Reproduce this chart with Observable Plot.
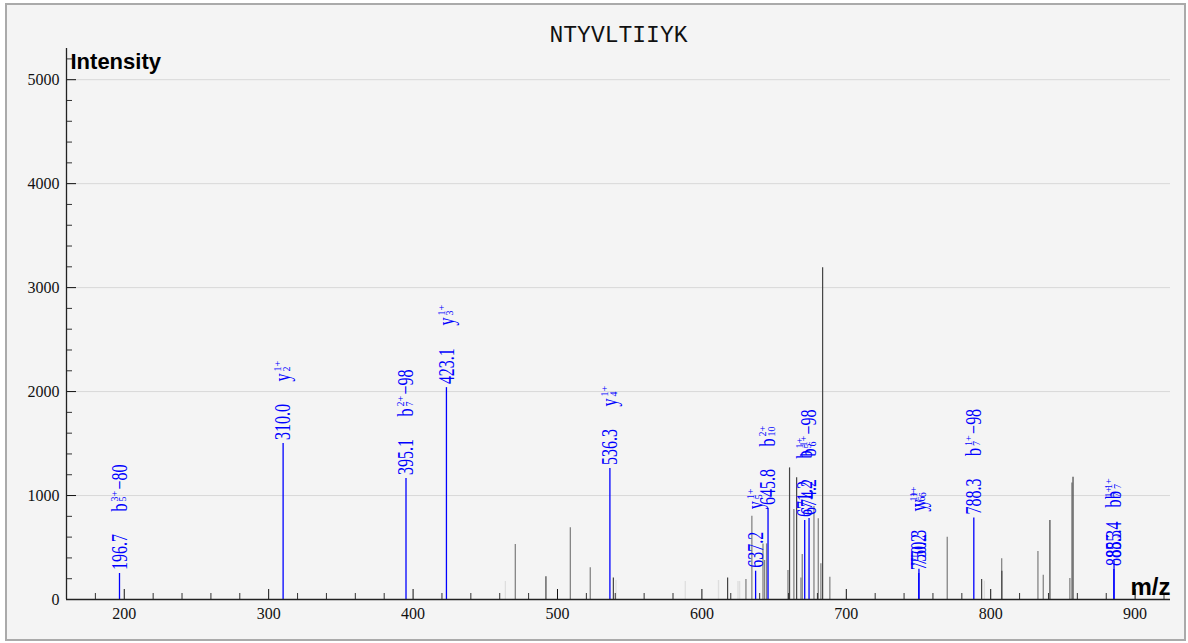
<!DOCTYPE html>
<html><head><meta charset="utf-8">
<script src="https://cdn.jsdelivr.net/npm/d3@7"></script>
<script src="https://cdn.jsdelivr.net/npm/@observablehq/plot@0.6"></script>
<style>
html,body{margin:0;padding:0;background:#fff;}
#frame{position:absolute;left:5px;top:3px;width:1177px;height:634px;border:2px solid #aaa;background:#f4f4f4;overflow:hidden;}
#frame svg{display:block;}
</style></head><body><div id="frame"></div>
<script>
// ---- text ----
const title = "NTYVLTIIYK";
const yLabel = "Intensity";
const xLabel = "m/z";

// ---- axis ticks ----
const xTicksMajor = [200, 300, 400, 500, 600, 700, 800, 900];
const xTicksMinor = [160, 180, 220, 240, 260, 280, 320, 340, 360, 380, 420, 440, 460, 480, 520, 540, 560, 580, 620, 640, 660, 680, 720, 740, 760, 780, 820, 840, 860, 880, 920];
const yTicksMajor = [0, 1000, 2000, 3000, 4000, 5000];
const yTicksMinor = [200, 400, 600, 800, 1200, 1400, 1600, 1800, 2200, 2400, 2600, 2800, 3200, 3400, 3600, 3800, 4200, 4400, 4600, 4800, 5200];

// ---- annotated (matched) peaks ----
const ionMz        = [196.7, 310.0, 395.1, 423.1, 536.3, 637.2, 645.8, 671.2, 674.2, 750.2, 750.3, 788.3, 885.3, 885.4];
const ionIntensity = [250, 1500, 1163, 2038, 1260, 272, 875, 760, 780, 250, 290, 785, 288, 370];
const ionLabel     = ["196.7", "310.0", "395.1", "423.1", "536.3", "637.2", "645.8", "671.2", "674.2", "750.2", "750.3", "788.3", "885.3", "885.4"];
const ionType      = ["b", "y", "b", "y", "y", "y", "b", "b", "b", "y", "y", "b", "b", "b"];
const ionIndex     = ["5", "2", "7", "3", "4", "5", "10", "5", "6", "6", "6", "7", "7", "7"];
const ionCharge    = ["3+", "1+", "2+", "1+", "1+", "1+", "2+", "1+", "1+", "1+", "1+", "1+", "1+", "1+"];
const ionLoss      = ["\u221280", "", "\u221298", "", "", "", "", "", "\u221298", "", "", "\u221298", "", ""];

// ---- unmatched peaks (class: faint / medium / strong) ----
const peakMz        = [463.9, 470.8, 492.0, 508.9, 522.7, 538.7, 540.5, 588.5, 611.5, 617.8, 625.0, 626.1, 630.5, 634.6, 642.3, 643.4, 644.8, 659.6, 660.7, 663.7, 665.6, 668.6, 669.5, 677.6, 680.6, 682.4, 683.6, 688.6, 769.9, 793.7, 795.6, 807.6, 807.7, 832.7, 836.4, 841.0, 854.8, 856.2, 857.0];
const peakIntensity = [173, 529, 218, 689, 305, 208, 183, 173, 183, 208, 173, 173, 192, 801, 535, 375, 535, 279, 1266, 865, 1170, 208, 433, 894, 776, 343, 3192, 214, 599, 192, 176, 391, 272, 462, 234, 760, 202, 1120, 1176];
const peakClass     = ["faint", "medium", "strong", "medium", "medium", "strong", "faint", "faint", "faint", "strong", "faint", "faint", "medium", "medium", "medium", "medium", "medium", "medium", "strong", "medium", "strong", "medium", "medium", "medium", "medium", "medium", "strong", "medium", "medium", "strong", "faint", "medium", "strong", "medium", "medium", "strong", "medium", "medium", "strong"];

const ions = ionMz.map((mz, i) => ({mz, intensity: ionIntensity[i], label: ionLabel[i], type: ionType[i], index: ionIndex[i], charge: ionCharge[i], loss: ionLoss[i]}));
const peaks = peakMz.map((mz, i) => ({mz, intensity: peakIntensity[i], cls: peakClass[i]}));

const blue = "#0000ff";
const serif = "Liberation Serif";
const stretched = {rotate: -90, textAnchor: "start", lineAnchor: "middle", fill: blue, fontFamily: serif, fontSize: 16, ariaDescription: "stretch"};
const script = {rotate: -90, textAnchor: "start", lineAnchor: "middle", fill: blue, fontFamily: serif, fontSize: 10};

const chart = Plot.plot({
  width: 1177, height: 634,
  marginLeft: 59, marginRight: 14, marginTop: 43, marginBottom: 40,
  style: {background: "transparent", fontFamily: serif, fontSize: "16px", color: "#111", overflow: "visible"},
  x: {domain: [160, 924.5], axis: null},
  y: {domain: [0, 5300], axis: null},
  marks: [
    Plot.gridY(yTicksMajor.filter(d => d > 0), {stroke: "#d8d8d8", strokeOpacity: 1}),
    Plot.ruleX(peaks.filter(d => d.cls === "faint"), {x: "mz", y1: 0, y2: "intensity", stroke: "#dedede", strokeWidth: 1.3}),
    Plot.ruleX(peaks.filter(d => d.cls === "medium"), {x: "mz", y1: 0, y2: "intensity", stroke: "#858585", strokeWidth: 1.3}),
    Plot.ruleX(peaks.filter(d => d.cls === "strong"), {x: "mz", y1: 0, y2: "intensity", stroke: "#444", strokeWidth: 1.2}),
    Plot.ruleX(ions, {x: "mz", y1: 0, y2: "intensity", stroke: blue, strokeWidth: 1.3}),
    Plot.axisY(yTicksMajor, {tickSize: -10, tickPadding: 17, tickFormat: d => String(d), label: null, color: "#111", fontSize: 16, fontFamily: serif}),
    Plot.axisY(yTicksMinor, {tickSize: -6, fill: "none", stroke: "#333", label: null}),
    Plot.axisX(xTicksMajor, {tickSize: -10, tickPadding: 18, tickFormat: d => String(d), label: null, color: "#111", fontSize: 16, fontFamily: serif}),
    Plot.axisX(xTicksMinor, {tickSize: -6, fill: "none", stroke: "#333", label: null}),
    Plot.ruleX([160], {stroke: "#222", strokeWidth: 1.3}),
    Plot.ruleY([0], {stroke: "#222", strokeWidth: 1.3}),
    Plot.text(ions, {x: "mz", y: "intensity", text: "label", dy: -3.5, ...stretched}),
    Plot.text(ions, {x: "mz", y: "intensity", text: "type", dy: -62, ...stretched}),
    Plot.text(ions, {x: "mz", y: "intensity", text: "charge", dy: -72, dx: -5, ...script}),
    Plot.text(ions, {x: "mz", y: "intensity", text: "index", dy: -72, dx: 3.4, ...script}),
    Plot.text(ions.filter(d => d.loss), {x: "mz", y: "intensity", text: "loss", dy: -84, ...stretched}),
    Plot.text([title], {text: d => d, frameAnchor: "top", lineAnchor: "middle", dy: -14, fontFamily: "Liberation Mono", fontSize: 23, fill: "#111"}),
    Plot.text([yLabel], {text: d => d, frameAnchor: "top-left", textAnchor: "start", lineAnchor: "middle", dx: 4, dy: 13, fontFamily: "Liberation Sans", fontWeight: "bold", fontSize: 22, fill: "#000"}),
    Plot.text([xLabel], {text: d => d, frameAnchor: "bottom-right", textAnchor: "end", lineAnchor: "middle", dy: -12, fontFamily: "Liberation Sans", fontWeight: "bold", fontSize: 24, fill: "#000"})
  ]
});

// stretch the main rotated labels across their baseline, as in the reference
d3.select(chart).selectAll('g[aria-description="stretch"] text').each(function() {
  const t = this.getAttribute("transform") || "";
  this.setAttribute("transform", t + " scale(1,1.4)");
});

document.getElementById("frame").appendChild(chart);
</script>
</body></html>
